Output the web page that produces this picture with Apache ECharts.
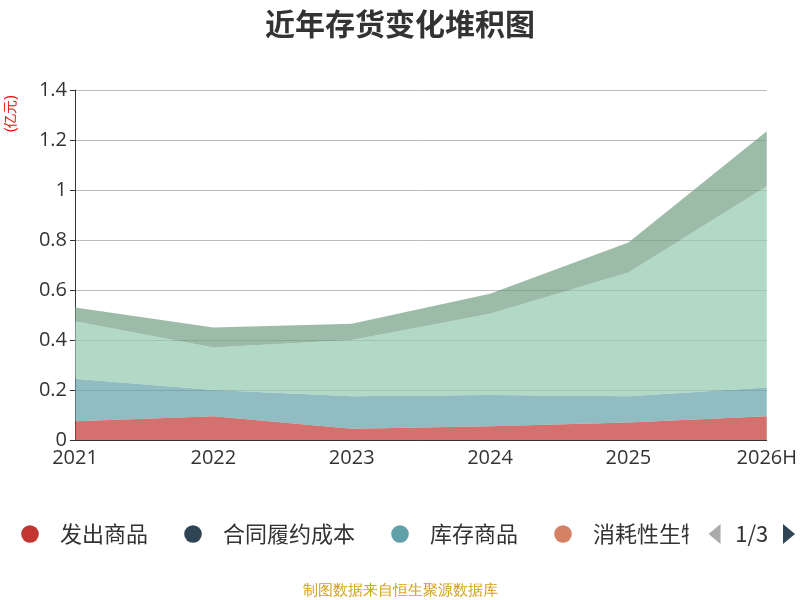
<!DOCTYPE html>
<html>
<head>
<meta charset="utf-8">
<script src="https://cdn.jsdelivr.net/npm/echarts@6/dist/echarts.min.js"></script>
<style>html,body{margin:0;padding:0;}#chart{width:800px;height:600px;}</style>
</head>
<body>
<div id="chart"></div>
<script>
function renderChart(labels, seriesData) {
	var colors = ['#c23531', '#2f4554', '#61a0a8', '#d48265', '#91c7ae', '#749f83', '#ca8622', '#bda29a'];
	var series = [];
	for (var i = 0; i < seriesData.length; i++) {
		series.push({
			name: seriesData[i].name,
			type: 'line',
			stack: 'total',
			symbol: 'circle',
			symbolSize: 8,
			showSymbol: false,
			lineStyle: { width: 0 },
			areaStyle: { opacity: 0.7 },
			data: seriesData[i].values
		});
	}
	var option = {
		color: colors,
		textStyle: { fontFamily: 'Noto Sans CJK SC' },
		title: {
			text: '近年存货变化堆积图',
			left: 'center',
			top: 4,
			textStyle: { fontSize: 30, fontWeight: 'bold', color: '#333', fontFamily: 'Noto Sans CJK SC' }
		},
		legend: {
			type: 'scroll',
			bottom: 50,
			left: 0,
			right: 0,
			itemGap: 20,
			itemWidth: 50,
			itemHeight: 22,
			textStyle: { fontSize: 22, color: '#333' },
			pageIconSize: 20,
			pageIconColor: '#2f4554',
			pageIconInactiveColor: '#aaa',
			pageTextStyle: { fontSize: 22, color: '#333' }
		},
		grid: { left: 75, right: 32, top: 90, bottom: 160 },
		xAxis: {
			type: 'category',
			boundaryGap: false,
			data: labels,
			axisTick: { show: false },
			axisLine: { lineStyle: { color: '#333' } },
			axisLabel: { fontSize: 20, color: '#333', fontFamily: 'Open Sans' }
		},
		yAxis: {
			type: 'value',
			min: 0,
			max: 1.4,
			interval: 0.2,
			axisLine: { show: true, lineStyle: { color: '#333' } },
			axisTick: { show: true },
			axisLabel: { fontSize: 20, color: '#333', fontFamily: 'Open Sans' },
			splitLine: { lineStyle: { color: '#bbb' } }
		},
		graphic: [{
			type: 'text',
			left: 4,
			top: 95,
			rotation: Math.PI / 2,
			style: { text: '(亿元)', fill: '#e00', fontSize: 14 }
		}, {
			type: 'text',
			left: 'center',
			bottom: 2,
			style: { text: '制图数据来自恒生聚源数据库', fill: '#d4a017', fontSize: 15 }
		}],
		series: series
	};
	var chart = echarts.init(document.getElementById('chart'));
	chart.setOption(option);
}

var labels = ['2021', '2022', '2023', '2024', '2025', '2026H'];
var data = [
	{ name: '发出商品', values: [0.075, 0.095, 0.045, 0.055, 0.07, 0.095] },
	{ name: '合同履约成本', values: [0, 0, 0, 0, 0, 0] },
	{ name: '库存商品', values: [0.17, 0.105, 0.13, 0.125, 0.105, 0.115] },
	{ name: '消耗性生物资产', values: [0, 0, 0, 0, 0, 0] },
	{ name: '原材料', values: [0.23, 0.17, 0.225, 0.325, 0.495, 0.805] },
	{ name: '在产品', values: [0.055, 0.08, 0.065, 0.08, 0.12, 0.22] },
	{ name: '周转材料', values: [0, 0, 0, 0, 0, 0] },
	{ name: '委托加工物资', values: [0, 0, 0, 0, 0, 0] }
];
renderChart(labels, data);
</script>
</body>
</html>
